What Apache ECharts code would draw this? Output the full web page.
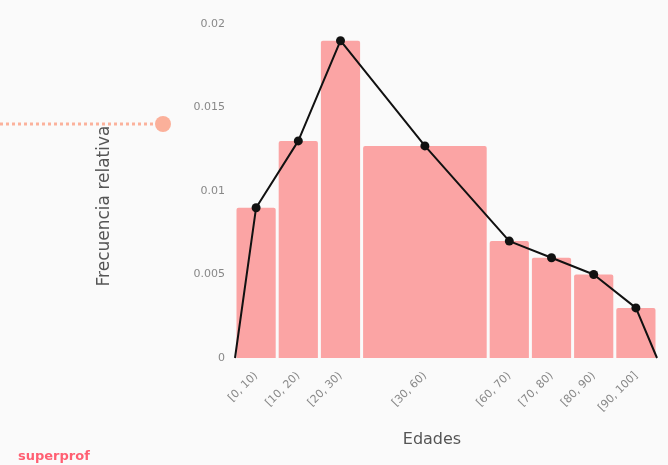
<!DOCTYPE html>
<html>
<head>
<meta charset="utf-8">
<style>
  html, body { margin: 0; padding: 0; background: #fafafa; }
  #chart { width: 668px; height: 465px; }
</style>
<script src="https://cdn.jsdelivr.net/npm/echarts@6/dist/echarts.min.js"></script>
</head>
<body>
<div id="chart"></div>
<script>
// intervalos de edad y frecuencia relativa (densidad)
const edges = [0, 10, 20, 30, 60, 70, 80, 90, 100];
const labels = ["[0, 10)", "[10, 20)", "[20, 30)", "[30, 60)", "[60, 70)", "[70, 80)", "[80, 90)", "[90, 100]"];
const freq = [0.009, 0.013, 0.019, 0.0127, 0.007, 0.006, 0.005, 0.003];
const yTicks = [0, 0.005, 0.01, 0.015, 0.02];

(function () {
  let dom = document.querySelector("#chart");
  let myChart = echarts.init(dom);

  let mids = freq.map((_, i) => (edges[i] + edges[i + 1]) / 2);
  let bars = freq.map((v, i) => [edges[i], edges[i + 1], v]);
  // poligono de frecuencias: cierra en los extremos
  let poly = [[edges[0], 0]].concat(mids.map((m, i) => [m, freq[i]]), [[edges[edges.length - 1], 0]]);

  let font = "DejaVu Sans";
  let options = {
    backgroundColor: "#fafafa",
    animation: false,
    grid: { left: 235, right: 11, top: 24, bottom: 107 },
    xAxis: {
      type: "value",
      min: 0,
      max: 100,
      name: "Edades",
      nameLocation: "middle",
      nameGap: 74,
      nameTextStyle: { color: "#555", fontSize: 16, fontFamily: font, padding: [0, 28, 0, 0] },
      axisLine: { show: false },
      axisTick: { show: false },
      splitLine: { show: false },
      axisLabel: {
        customValues: mids,
        rotate: 45,
        margin: 16,
        padding: [0, 0, 14, 0],
        color: "#888",
        fontSize: 11,
        fontFamily: font,
        formatter: (v) => labels[mids.indexOf(v)]
      }
    },
    yAxis: {
      type: "value",
      min: 0,
      max: 0.02,
      interval: 0.005,
      name: "Frecuencia relativa",
      nameLocation: "middle",
      nameRotate: 90,
      nameGap: 122,
      nameTextStyle: { color: "#555", fontSize: 17, fontFamily: font, padding: [0, 30, 0, 0] },
      axisLine: { show: false },
      axisTick: { show: false },
      splitLine: { show: false },
      axisLabel: {
        color: "#888",
        fontSize: 11,
        fontFamily: font,
        margin: 10,
        formatter: (v) => String(yTicks.find((t) => Math.abs(t - v) < 1e-9) ?? v)
      }
    },
    graphic: [
      {
        type: "line",
        shape: { x1: 0, y1: 124, x2: 156, y2: 124 },
        style: { stroke: "#fbb29c", lineWidth: 3, lineDash: [3, 3] }
      },
      {
        type: "circle",
        shape: { cx: 163, cy: 124, r: 8 },
        style: { fill: "#fbb09a" }
      },
      {
        type: "text",
        left: 18,
        top: 450,
        style: { text: "superprof", fill: "#ff5f72", font: "bold 13px 'DejaVu Sans'" }
      }
    ],
    series: [
      {
        type: "custom",
        data: bars,
        renderItem: function (params, api) {
          let p0 = api.coord([api.value(0), api.value(2)]);
          let p1 = api.coord([api.value(1), 0]);
          return {
            type: "rect",
            shape: { x: p0[0] + 1.5, y: p0[1], width: p1[0] - p0[0] - 3, height: p1[1] - p0[1], r: [2, 2, 0, 0] },
            style: { fill: "#fba4a4" }
          };
        },
        encode: { x: [0, 1], y: 2 },
        z: 1
      },
      {
        type: "line",
        data: poly,
        symbol: "circle",
        symbolSize: (v) => (v[1] === 0 ? 0 : 9),
        lineStyle: { color: "#111", width: 2 },
        itemStyle: { color: "#111" },
        z: 3
      }
    ]
  };
  myChart.setOption(options);
  window.addEventListener("resize", () => {
    myChart.resize();
  });
})();
</script>
</body>
</html>
